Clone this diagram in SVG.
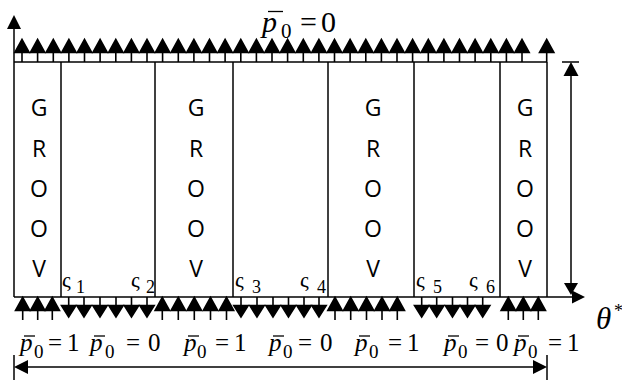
<svg xmlns="http://www.w3.org/2000/svg" xmlns:xlink="http://www.w3.org/1999/xlink" width="622" height="380" viewBox="0 0 622 380">
<style>
.ln{stroke:#000;stroke-width:1.5;fill:none}
.ah{fill:#000;stroke:none}
.gv{font-family:"Open Sans","Noto Sans",sans-serif;font-size:23px;fill:#000;text-anchor:middle}
.m{font-family:"Liberation Serif","Times New Roman",serif;fill:#000}
.it{font-style:italic}
.ol{stroke:#000;stroke-width:1.3}
</style>
<defs>
<path id="ua" d="M0,0 V-11 M0,-22.5 L-7.2,-9.5 L7.2,-9.5 Z" fill="#000" stroke="#000" stroke-width="1.6" stroke-linejoin="miter"/>
<path id="da" d="M0,0 V10 M0,20 L-7.2,8.5 L7.2,8.5 Z" fill="#000" stroke="#000" stroke-width="1.6" stroke-linejoin="miter"/>
</defs>
<rect width="622" height="380" fill="#fff"/>

<g id="frame">
<line class="ln" x1="14" y1="62" x2="547" y2="62"/>
<line class="ln" x1="547" y1="62" x2="547" y2="297"/>
<line class="ln" x1="61" y1="62" x2="61" y2="297"/>
<line class="ln" x1="155" y1="62" x2="155" y2="297"/>
<line class="ln" x1="233" y1="62" x2="233" y2="297"/>
<line class="ln" x1="328" y1="62" x2="328" y2="297"/>
<line class="ln" x1="414" y1="62" x2="414" y2="297"/>
<line class="ln" x1="500" y1="62" x2="500" y2="297"/>
</g>

<g id="groove1" class="gv">
<text x="39" y="116">G</text><text x="39" y="157">R</text><text x="39" y="197">O</text><text x="39" y="237">O</text><text x="39" y="277">V</text>
</g>
<g id="groove2" class="gv">
<text x="196" y="116">G</text><text x="196" y="157">R</text><text x="196" y="197">O</text><text x="196" y="237">O</text><text x="196" y="277">V</text>
</g>
<g id="groove3" class="gv">
<text x="373" y="116">G</text><text x="373" y="157">R</text><text x="373" y="197">O</text><text x="373" y="237">O</text><text x="373" y="277">V</text>
</g>
<g id="groove4" class="gv">
<text x="525" y="116">G</text><text x="525" y="157">R</text><text x="525" y="197">O</text><text x="525" y="237">O</text><text x="525" y="277">V</text>
</g>

<g id="connectors">
<line class="ln" x1="14" y1="297" x2="14" y2="28"/>
<polygon class="ah" points="14,15 7,29 21,29"/>
<line class="ln" x1="14" y1="297" x2="573" y2="297"/>
<polygon class="ah" points="585,297 572,290.5 572,303.5"/>
<line class="ln" x1="562" y1="62" x2="579" y2="62"/>
<line class="ln" x1="571" y1="75" x2="571" y2="284"/>
<polygon class="ah" points="571,62 563.5,76 578.5,76"/>
<polygon class="ah" points="571,295 564,283 578,283"/>
<line class="ln" x1="14" y1="355" x2="14" y2="380"/>
<line class="ln" x1="547" y1="355" x2="547" y2="380"/>
<line class="ln" x1="27" y1="367" x2="534" y2="367"/>
<polygon class="ah" points="14,367 28,360 28,374"/>
<polygon class="ah" points="547,367 533,360 533,374"/>
</g>

<g id="top-load">
<use xlink:href="#ua" x="22" y="62"/><use xlink:href="#ua" x="37.6" y="62"/><use xlink:href="#ua" x="53.3" y="62"/><use xlink:href="#ua" x="68.9" y="62"/>
<use xlink:href="#ua" x="84.5" y="62"/><use xlink:href="#ua" x="100.1" y="62"/><use xlink:href="#ua" x="115.8" y="62"/><use xlink:href="#ua" x="131.4" y="62"/>
<use xlink:href="#ua" x="147" y="62"/><use xlink:href="#ua" x="162.6" y="62"/><use xlink:href="#ua" x="178.3" y="62"/><use xlink:href="#ua" x="193.9" y="62"/>
<use xlink:href="#ua" x="209.5" y="62"/><use xlink:href="#ua" x="225.1" y="62"/><use xlink:href="#ua" x="240.8" y="62"/><use xlink:href="#ua" x="256.4" y="62"/>
<use xlink:href="#ua" x="272" y="62"/><use xlink:href="#ua" x="287.6" y="62"/><use xlink:href="#ua" x="303.3" y="62"/><use xlink:href="#ua" x="318.9" y="62"/>
<use xlink:href="#ua" x="334.5" y="62"/><use xlink:href="#ua" x="350.1" y="62"/><use xlink:href="#ua" x="365.8" y="62"/><use xlink:href="#ua" x="381.4" y="62"/>
<use xlink:href="#ua" x="397" y="62"/><use xlink:href="#ua" x="412.6" y="62"/><use xlink:href="#ua" x="428.3" y="62"/><use xlink:href="#ua" x="443.9" y="62"/>
<use xlink:href="#ua" x="459.5" y="62"/><use xlink:href="#ua" x="475.1" y="62"/><use xlink:href="#ua" x="490.8" y="62"/><use xlink:href="#ua" x="506.4" y="62"/>
<use xlink:href="#ua" x="522" y="62"/><use xlink:href="#ua" x="546.7" y="62"/>
</g>

<g id="bottom-load">
<use xlink:href="#ua" x="22.7" y="320"/><use xlink:href="#ua" x="37.7" y="320"/><use xlink:href="#ua" x="52.3" y="320"/>
<use xlink:href="#da" x="68.7" y="297"/><use xlink:href="#da" x="84" y="297"/><use xlink:href="#da" x="100" y="297"/><use xlink:href="#da" x="116" y="297"/><use xlink:href="#da" x="131.5" y="297"/><use xlink:href="#da" x="147" y="297"/>
<use xlink:href="#ua" x="162.3" y="320"/><use xlink:href="#ua" x="178.3" y="320"/><use xlink:href="#ua" x="194.3" y="320"/><use xlink:href="#ua" x="210.5" y="320"/><use xlink:href="#ua" x="226.5" y="320"/>
<use xlink:href="#da" x="241" y="297"/><use xlink:href="#da" x="257" y="297"/><use xlink:href="#da" x="273" y="297"/><use xlink:href="#da" x="288.5" y="297"/><use xlink:href="#da" x="304" y="297"/><use xlink:href="#da" x="319" y="297"/>
<use xlink:href="#ua" x="335" y="320"/><use xlink:href="#ua" x="350.7" y="320"/><use xlink:href="#ua" x="366.5" y="320"/><use xlink:href="#ua" x="382" y="320"/><use xlink:href="#ua" x="397.3" y="320"/>
<use xlink:href="#da" x="421.7" y="297"/><use xlink:href="#da" x="436.7" y="297"/><use xlink:href="#da" x="452.5" y="297"/><use xlink:href="#da" x="467.5" y="297"/><use xlink:href="#da" x="482.7" y="297"/>
<use xlink:href="#ua" x="508.3" y="320"/><use xlink:href="#ua" x="523.3" y="320"/><use xlink:href="#ua" x="538.3" y="320"/>
</g>

<g id="sigma-labels" class="m">
<text x="62" y="287" font-size="22">ς</text><text x="76" y="293" font-size="18">1</text>
<text x="131" y="287" font-size="22">ς</text><text x="146" y="293" font-size="18">2</text>
<text x="235" y="287" font-size="22">ς</text><text x="252" y="293" font-size="18">3</text>
<text x="300" y="287" font-size="22">ς</text><text x="317" y="293" font-size="18">4</text>
<text x="416" y="287" font-size="22">ς</text><text x="433" y="293" font-size="18">5</text>
<text x="469" y="287" font-size="22">ς</text><text x="486" y="293" font-size="18">6</text>
</g>

<g id="top-label" class="m">
<text x="262" y="32" font-size="30" class="it">p</text>
<text x="281" y="38" font-size="21">0</text>
<text x="300" y="32" font-size="30">=</text>
<text x="321" y="32" font-size="30">0</text>
<line class="ol" x1="268" y1="11.5" x2="283" y2="11.5"/>
</g>

<g id="theta-label" class="m">
<text x="596" y="329" font-size="31" class="it">θ</text>
<text x="614" y="317" font-size="18">*</text>
</g>

<g id="bottom-labels" class="m" font-size="25">
<text x="20" y="351" class="it">p</text><text x="34" y="358" font-size="19">0</text><text x="48" y="351">=</text><text x="67" y="351">1</text><line class="ol" x1="24" y1="336" x2="35" y2="336"/>
<text x="90" y="351" class="it">p</text><text x="105" y="358" font-size="19">0</text><text x="126" y="351">=</text><text x="148" y="351">0</text><line class="ol" x1="94" y1="336" x2="105" y2="336"/>
<text x="184" y="351" class="it">p</text><text x="197" y="358" font-size="19">0</text><text x="215" y="351">=</text><text x="234" y="351">1</text><line class="ol" x1="188" y1="336" x2="199" y2="336"/>
<text x="269" y="351" class="it">p</text><text x="283" y="358" font-size="19">0</text><text x="298" y="351">=</text><text x="320" y="351">0</text><line class="ol" x1="273" y1="336" x2="284" y2="336"/>
<text x="355" y="351" class="it">p</text><text x="369" y="358" font-size="19">0</text><text x="388" y="351">=</text><text x="407" y="351">1</text><line class="ol" x1="359" y1="336" x2="370" y2="336"/>
<text x="444" y="351" class="it">p</text><text x="458" y="358" font-size="19">0</text><text x="475" y="351">=</text><text x="496" y="351">0</text><line class="ol" x1="448" y1="336" x2="459" y2="336"/>
<text x="514" y="351" class="it">p</text><text x="528" y="358" font-size="19">0</text><text x="548" y="351">=</text><text x="567" y="351">1</text><line class="ol" x1="518" y1="336" x2="529" y2="336"/>
</g>
</svg>
